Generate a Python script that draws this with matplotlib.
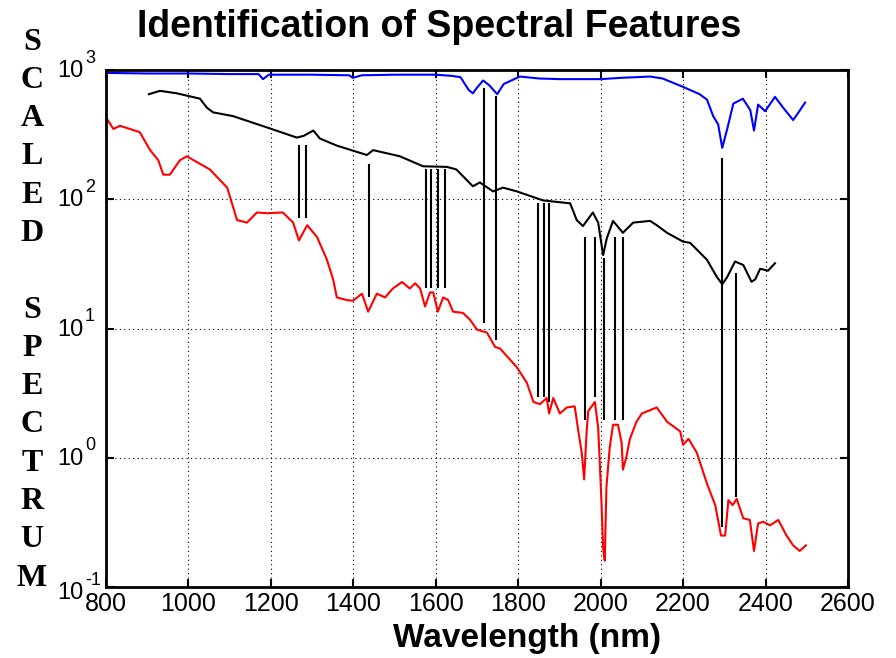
import matplotlib
matplotlib.use("Agg")
import matplotlib.pyplot as plt
import matplotlib.transforms as mtransforms
import numpy as np

# reflectance-like spectra, scaled (wavelength in nm)
blue_wl = [800, 900, 1000, 1100, 1170, 1181, 1195, 1300, 1390, 1399, 1420, 1500, 1600, 1640, 1660,
           1680, 1690, 1700, 1715, 1730, 1749, 1765, 1804, 1850, 1900, 2000, 2050, 2120, 2150, 2200,
           2240, 2258, 2273, 2285, 2295, 2307, 2322, 2345, 2363, 2372, 2382, 2399, 2423, 2443, 2467,
           2480, 2496]
blue_val = [950, 940, 940, 930, 930, 850, 920, 920, 910, 870, 910, 920, 920, 900, 880,
            700, 660, 730, 830, 760, 650, 780, 890, 860, 850, 850, 870, 890, 860, 740,
            650, 590, 440, 380, 250, 350, 550, 600, 490, 340, 540, 480, 620, 510, 410,
            470, 560]

black_wl = [904, 931, 972, 1028, 1045, 1060, 1108, 1190, 1263, 1280, 1303, 1319, 1360, 1433, 1448,
            1513, 1569, 1627, 1650, 1690, 1707, 1739, 1763, 1797, 1860, 1926, 1942, 1957, 1981, 1994,
            2006, 2015, 2030, 2054, 2079, 2120, 2136, 2161, 2200, 2217, 2258, 2282, 2295, 2307, 2326,
            2346, 2366, 2375, 2387, 2406, 2423]
black_val = [650, 690, 660, 600, 510, 470, 440, 360, 300, 310, 340, 295, 260, 220, 240,
             215, 180, 178, 170, 126, 135, 115, 123, 115, 98, 93, 69, 62, 79, 66,
             37, 50, 68, 55, 66, 68, 63, 55, 47, 46, 34, 25, 22, 25, 33,
             31, 23, 24, 29, 28, 32]

red_wl = [800, 818, 834, 858, 882, 907, 927, 939, 955, 979, 996, 1052, 1094, 1118, 1142,
          1166, 1190, 1229, 1254, 1268, 1288, 1312, 1336, 1351, 1360, 1384, 1399, 1421, 1436, 1457,
          1477, 1496, 1518, 1537, 1550, 1562, 1574, 1586, 1594, 1605, 1618, 1630, 1642, 1666, 1683,
          1700, 1724, 1744, 1756, 1797, 1821, 1837, 1853, 1869, 1875, 1885, 1901, 1918, 1937, 1946,
          1954, 1960, 1966, 1970, 1986, 1994, 1998, 2002, 2006, 2010, 2014, 2022, 2030, 2042, 2051,
          2054, 2062, 2071, 2087, 2100, 2136, 2161, 2193, 2200, 2213, 2233, 2258, 2278, 2292, 2302,
          2310, 2320, 2330, 2346, 2362, 2372, 2382, 2394, 2411, 2431, 2451, 2467, 2483, 2498]
red_val = [430, 350, 370, 350, 330, 240, 200, 155, 155, 200, 215, 170, 123, 69, 66,
           79, 78, 79, 66, 48, 63, 51, 34, 24, 17.4, 16.6, 16.4, 18.6, 13.5, 18.6,
           17.4, 20.4, 22.9, 20.4, 22.4, 20.4, 14.8, 19, 19, 13.5, 17.4, 16.6, 13.5, 13.2, 11.7,
           9.8, 9.3, 7.2, 7.0, 5.0, 3.8, 2.7, 2.6, 2.9, 2.2, 2.9, 2.2, 2.45, 2.5, 1.6,
           1.1, 0.68, 1.6, 2.3, 2.7, 1.7, 0.9, 0.45, 0.2, 0.16, 0.59, 1.2, 1.8, 1.8, 1.3,
           0.81, 1.0, 1.4, 1.9, 2.2, 2.45, 1.9, 1.6, 1.26, 1.4, 1.1, 0.63, 0.43, 0.25, 0.25,
           0.47, 0.43, 0.48, 0.34, 0.33, 0.19, 0.31, 0.32, 0.30, 0.33, 0.25, 0.21, 0.19, 0.21]

# feature markers: wavelength, lower end, upper end
feat_wl = [1268, 1285, 1438, 1576, 1588, 1606, 1622, 1717, 1745, 1848, 1863, 1875,
           1962, 1987, 2008, 2035, 2054, 2295, 2328]
feat_lo = [72, 72, 17.4, 20.5, 20.5, 20.5, 20.5, 11, 8.1, 2.97, 2.97, 2.7,
           1.95, 2.95, 1.95, 1.95, 1.95, 0.29, 0.5]
feat_hi = [263, 263, 186, 170, 170, 170, 170, 725, 630, 94, 94, 94,
           51, 51, 35, 51, 51, 209, 27]

yticks = [0.1, 1, 10, 100, 1000]
yexponents = ["-1", "0", "1", "2", "3"]
ylabel = "SCALED SPECTRUM"

plt.rcParams['font.family'] = ['Liberation Sans', 'DejaVu Sans']

fig = plt.figure(figsize=(8.96, 6.58), dpi=100)
ax = fig.add_axes([0.1183, 0.1079, 0.8281, 0.7857])

ax.plot(blue_wl, blue_val, color="blue", lw=1.5)
ax.plot(black_wl, black_val, color="black", lw=1.5)
ax.plot(red_wl, red_val, color="red", lw=1.5)
ax.vlines(feat_wl, feat_lo, feat_hi, color="black", lw=1.5)

ax.set_yscale("log")
ax.set_xlim(800, 2600)
ax.set_ylim(0.1, 1000)
ax.set_xticks(np.arange(800, 2601, 200))
ax.set_yticks(yticks)
ax.set_yticklabels([])
ax.yaxis.set_minor_locator(matplotlib.ticker.NullLocator())
ax.grid(True, which="major", color="black", linestyle=(0, (1, 3)), lw=0.8)
ax.tick_params(direction="in", top=True, right=True, length=6, width=1.5, labelsize=18)
for s in ax.spines.values():
    s.set_linewidth(2)

# MATLAB-style "10" with a large superscript exponent
trans = mtransforms.blended_transform_factory(ax.transAxes, ax.transData)
for i, (t, e) in enumerate(zip(yticks, yexponents)):
    dy = -6 if i == 0 else -1
    base = mtransforms.offset_copy(trans, fig=fig, x=-22, y=dy, units="dots")
    sup = mtransforms.offset_copy(trans, fig=fig, x=-21, y=dy + 13, units="dots")
    ax.text(0, t, "10", transform=base, ha="right", va="center", fontsize=17)
    ax.text(0, t, e, transform=sup, ha="left", va="center", fontsize=13)

fig.text(439/896, 1 - 27/658, "Identification of Spectral Features", ha="center", va="center",
         fontsize=27, fontweight="bold")
fig.text(527/896, 1 - 638/658, "Wavelength (nm)", ha="center", va="center",
         fontsize=24, fontweight="bold")

# stacked vertical label, one letter per row
ys = np.linspace(42, 578, len(ylabel))
for ch, y in zip(ylabel, ys):
    if ch != " ":
        fig.text(32/896, 1 - y/658, ch, ha="center", va="center", fontsize=23,
                 fontweight="bold", family="Liberation Serif")

fig.savefig("out.png", dpi=100)
